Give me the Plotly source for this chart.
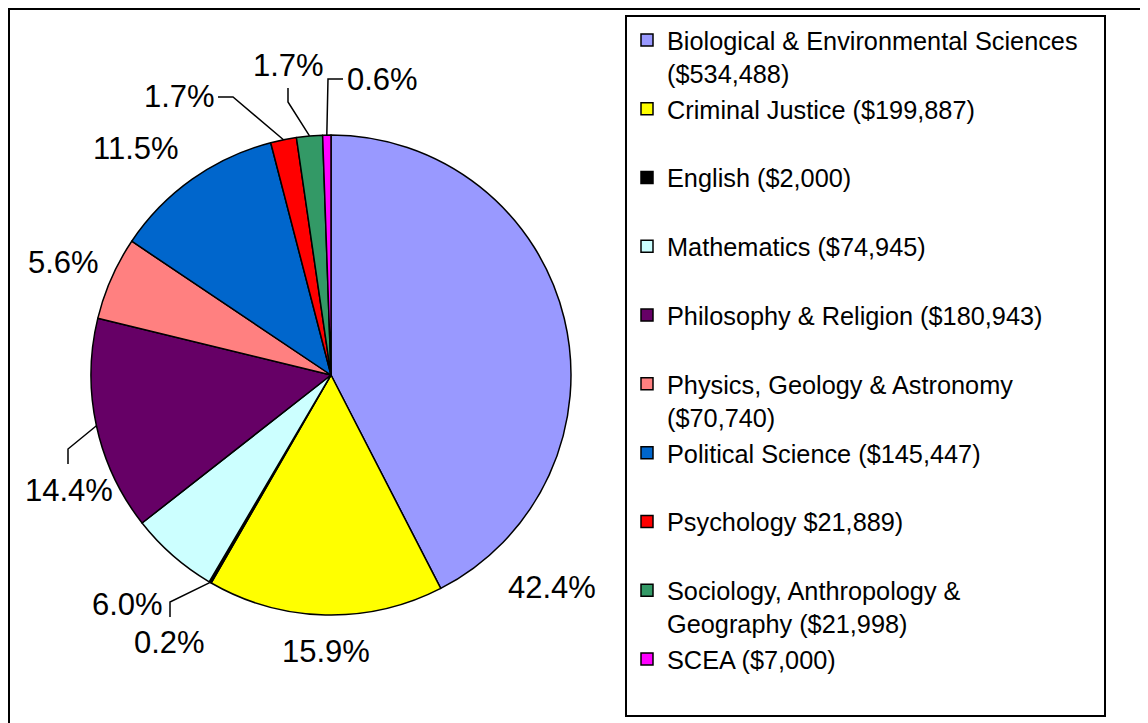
import math
import plotly.graph_objects as go

# ---------------- data ----------------
departments = [
    "Biological & Environmental Sciences",
    "Criminal Justice",
    "English",
    "Mathematics",
    "Philosophy & Religion",
    "Physics, Geology & Astronomy",
    "Political Science",
    "Psychology",
    "Sociology, Anthropology & Geography",
    "SCEA",
]
legend_labels = [
    "Biological & Environmental Sciences\u00a0\u00a0\u00a0<br>($534,488)",
    "Criminal Justice ($199,887)<br>\u00a0",
    "English ($2,000)<br>\u00a0",
    "Mathematics ($74,945)<br>\u00a0",
    "Philosophy & Religion ($180,943)<br>\u00a0",
    "Physics, Geology & Astronomy<br>($70,740)",
    "Political Science ($145,447)<br>\u00a0",
    "Psychology $21,889)<br>\u00a0",
    "Sociology, Anthropology &<br>Geography ($21,998)",
    "SCEA ($7,000)<br>\u00a0",
]
funding = [534488, 199887, 2000, 74945, 180943, 70740, 145447, 21889, 21998, 7000]

# ---------------- styles / layout ----------------
colors = ["#9999FF", "#FFFF00", "#000000", "#CCFFFF", "#660066",
          "#FF8080", "#0066CC", "#FF0000", "#339966", "#FF00FF"]

OFF = 8                            # page body margin of the html page
W, H = 1148 - OFF, 723 - OFF       # figure size
CX, CY, R = 331, 375, 240          # pie centre / radius in screen pixels
FONT = "Arial, Liberation Sans, sans-serif"

# label text centres (screen pixels)
label_pos = [(552, 587), (326, 651), (169, 642), (127, 604), (69, 491),
             (63, 262), (136, 148), (179, 97), (288, 66), (382, 80)]
# leader line bend / end points (screen pixels), None = no leader
leaders = [None, None, [(170, 602), (170, 617)], None,
           [(68, 449), (68, 464)], None, None,
           [(233, 97), (218, 97)], [(288, 102), (288, 88)],
           [(328, 79), (343, 79)]]


def px(x):
    return (x - OFF) / W


def py(y):
    return 1 - (y - OFF) / H


total = sum(funding)
fig = go.Figure(go.Pie(
    labels=legend_labels,
    values=funding,
    sort=False,
    direction="clockwise",
    rotation=0,
    textinfo="none",
    hoverinfo="label+percent",
    marker=dict(colors=colors, line=dict(color="black", width=1.5)),
    domain=dict(x=[px(CX - R), px(CX + R)], y=[py(CY + R), py(CY - R)]),
))

annotations = []
shapes = []
cum = 0
for i, v in enumerate(funding):
    frac = v / total
    mid = (cum + frac / 2) * 2 * math.pi
    cum += frac
    pct = f"{frac * 100:.1f}%"
    lx, ly = label_pos[i]
    annotations.append(dict(
        x=px(lx), y=py(ly), xref="paper", yref="paper",
        text=pct, showarrow=False, xanchor="center", yanchor="middle",
        font=dict(family=FONT, size=31, color="black"),
    ))
    if leaders[i]:
        ex = CX + R * math.sin(mid)
        ey = CY - R * math.cos(mid)
        pts = [(ex, ey)] + leaders[i]
        path = "M " + " L ".join(f"{px(a):.5f},{py(b):.5f}" for a, b in pts)
        shapes.append(dict(type="path", path=path, xref="paper", yref="paper",
                           line=dict(color="black", width=1.5)))

# outer chart border
shapes.append(dict(type="rect", xref="paper", yref="paper",
                   x0=px(9), y0=py(9), x1=px(1170), y1=py(750),
                   line=dict(color="black", width=2), fillcolor="rgba(0,0,0,0)"))

fig.update_layout(
    width=W, height=H,
    margin=dict(l=0, r=0, t=0, b=0, pad=0, autoexpand=False),
    paper_bgcolor="white", plot_bgcolor="white",
    font=dict(family=FONT, color="black"),
    showlegend=True,
    legend=dict(
        x=px(625), y=py(15), xanchor="left", yanchor="top",
        bordercolor="black", borderwidth=2, bgcolor="white",
        font=dict(family=FONT, size=25.3, color="black"),
        valign="top", traceorder="normal",
    ),
    annotations=annotations,
    shapes=shapes,
)

fig.write_html("out.html")
